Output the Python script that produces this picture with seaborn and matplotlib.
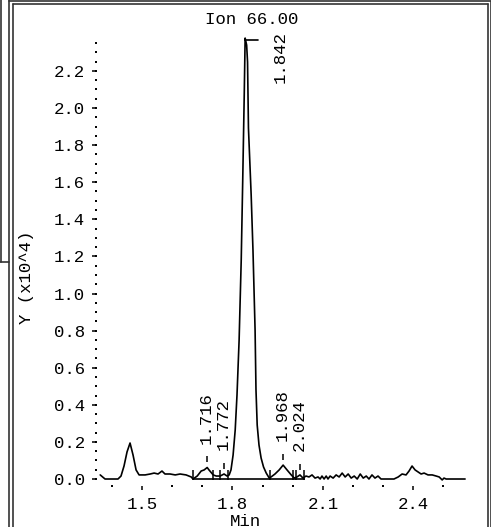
import matplotlib
matplotlib.use("Agg")
import matplotlib.pyplot as plt
from matplotlib.lines import Line2D
from matplotlib.ticker import FixedLocator, MultipleLocator, FormatStrFormatter
import pandas as pd
import seaborn as sns

# ---------------- data ----------------
time_min = [1.361, 1.377, 1.420, 1.430, 1.440, 1.450, 1.460, 1.470, 1.480, 1.490,
            1.510, 1.527, 1.540, 1.553, 1.566, 1.576, 1.593, 1.610, 1.626, 1.646,
            1.663, 1.669, 1.683, 1.696, 1.706, 1.716, 1.722, 1.736, 1.746, 1.759,
            1.772, 1.782, 1.789, 1.795, 1.802, 1.809, 1.815, 1.822, 1.829, 1.834,
            1.839, 1.842, 1.847, 1.850, 1.853, 1.862, 1.868, 1.875, 1.878, 1.882,
            1.888, 1.895, 1.903, 1.912, 1.922, 1.928, 1.941, 1.955, 1.968, 1.981,
            1.995, 2.005, 2.014, 2.024, 2.034, 2.044, 2.054, 2.064, 2.074, 2.084,
            2.091, 2.097, 2.104, 2.111, 2.117, 2.124, 2.134, 2.144, 2.154, 2.164,
            2.174, 2.184, 2.194, 2.204, 2.214, 2.224, 2.234, 2.244, 2.253, 2.263,
            2.273, 2.283, 2.293, 2.303, 2.323, 2.336, 2.350, 2.363, 2.376, 2.386,
            2.396, 2.406, 2.416, 2.426, 2.436, 2.449, 2.463, 2.476, 2.486, 2.496,
            2.502, 2.509, 2.572]
intensity = [0.022, 0.000, 0.000, 0.016, 0.070, 0.146, 0.194, 0.129, 0.049, 0.022,
             0.022, 0.027, 0.032, 0.027, 0.043, 0.027, 0.027, 0.022, 0.027, 0.022,
             0.011, 0.000, 0.016, 0.043, 0.049, 0.062, 0.049, 0.022, 0.016, 0.016,
             0.027, 0.016, 0.022, 0.049, 0.129, 0.264, 0.453, 0.749, 1.180, 1.612,
             2.070, 2.377, 2.339, 2.248, 1.892, 1.531, 1.234, 0.803, 0.480, 0.291,
             0.183, 0.113, 0.065, 0.032, 0.005, 0.011, 0.027, 0.049, 0.075, 0.049,
             0.022, 0.005, 0.011, 0.022, 0.005, 0.016, 0.011, 0.022, 0.005, 0.011,
             0.000, 0.016, 0.000, 0.016, 0.000, 0.016, 0.005, 0.022, 0.011, 0.032,
             0.011, 0.027, 0.005, 0.016, 0.000, 0.027, 0.005, 0.016, 0.000, 0.022,
             0.005, 0.016, 0.000, 0.000, 0.000, 0.000, 0.011, 0.027, 0.022, 0.043,
             0.070, 0.049, 0.038, 0.027, 0.032, 0.022, 0.022, 0.016, 0.011, -0.005,
             0.005, 0.000, 0.000]

peak_labels = ["1.716", "1.772", "1.842", "1.968", "2.024"]
peak_times = [1.716, 1.772, 1.842, 1.968, 2.024]
peak_heights = [0.062, 0.027, 2.377, 0.075, 0.022]
main_peak = "1.842"

boundary_times = [1.669, 1.736, 1.759, 1.785, 1.925, 2.001, 2.011, 2.037]
baseline_start, baseline_end = 1.669, 2.041

x_major = [1.5, 1.8, 2.1, 2.4]
y_major = [0.0, 0.2, 0.4, 0.6, 0.8, 1.0, 1.2, 1.4, 1.6, 1.8, 2.0, 2.2]
title_text = "Ion 66.00"
x_label = "Min"
y_label = "Y (x10^4)"

# ---------------- style ----------------
sns.set_style("white")
plt.rcParams["font.family"] = ["Liberation Mono", "DejaVu Sans Mono"]
FS = 12.5
INK = "black"

W, H = 491, 527
fig = plt.figure(figsize=(W / 100, H / 100), dpi=100)
fig.patch.set_facecolor("white")


def fx(px):
    return px / W


def fy(py):
    return 1 - py / H


ax = fig.add_axes([fx(96), fy(486), (469 - 96) / W, (486 - 40) / H])
ax.set_facecolor("white")

df = pd.DataFrame({"t": time_min, "v": intensity})
sns.lineplot(data=df, x="t", y="v", ax=ax, color=INK, lw=1.2,
             estimator=None, sort=False)
for ln in ax.lines:
    ln.set_clip_on(False)

ax.set_xlim(1.347, 2.585)
ax.set_ylim(-0.0377, 2.3666)
for s in ax.spines.values():
    s.set_visible(False)
ax.set_xlabel("")
ax.set_ylabel("")

# axes: dotted minor ticks, short major ticks
ax.xaxis.set_major_locator(FixedLocator(x_major))
ax.xaxis.set_minor_locator(MultipleLocator(0.1))
ax.yaxis.set_major_locator(FixedLocator(y_major))
ax.yaxis.set_minor_locator(MultipleLocator(0.05))
ax.yaxis.remove_overlapping_locs = False
ax.xaxis.set_major_formatter(FormatStrFormatter("%.1f"))
ax.yaxis.set_major_formatter(FormatStrFormatter("%.1f"))
ax.tick_params(which="both", bottom=True, left=True, top=False, right=False)
ax.tick_params(which="major", direction="out", length=3, width=1.1,
               color=INK, labelsize=FS, labelcolor=INK, pad=5)
ax.tick_params(which="minor", direction="inout", length=1.4, width=1.4, color=INK)
ax.tick_params(axis="x", which="major", length=3.2)

# integration baseline and boundary markers
ax.hlines(0, baseline_start, baseline_end, color=INK, lw=1.2)
ax.vlines(boundary_times, -0.004, 0.05, color=INK, lw=1.1)

# peak labels
ytop = ax.get_ylim()[1]
for lab, pt, ph in zip(peak_labels, peak_times, peak_heights):
    if lab == main_peak:
        ax.plot([pt, pt + 0.043], [ytop, ytop], color=INK, lw=1.2, clip_on=False)
        ax.annotate(lab, xy=(pt, ph), xytext=(35, -45), textcoords="offset pixels",
                    rotation=90, ha="center", va="bottom", fontsize=FS,
                    color=INK, annotation_clip=False)
    else:
        ax.vlines(pt, ph + 0.027, ph + 0.06, color=INK, lw=1.1)
        ax.annotate(lab, xy=(pt, ph), xytext=(-1, 24), textcoords="offset pixels",
                    rotation=90, ha="center", va="bottom", fontsize=FS,
                    color=INK, annotation_clip=False)

# titles / axis labels
fig.text(fx(252), fy(19), title_text, ha="center", va="center", fontsize=FS, color=INK)
fig.text(fx(27), fy(277), y_label, ha="center", va="center", rotation=90,
         fontsize=FS, color=INK)
fig.text(fx(245), fy(521), x_label, ha="center", va="center", fontsize=FS, color=INK)

# window frame (double border)
FR = "#333333"
frame_lw = 1.2
segments = [
    ((8.5, 0), (8.5, H)),
    ((8.5, 0.8), (W, 0.8)),
    ((12.5, 4.2), (12.5, H)),
    ((12.5, 4.2), (487.5, 4.2)),
    ((487.5, 4.2), (487.5, H)),
    ((490.5, 0.8), (490.5, H)),
    ((0.7, 0), (0.7, 262)),
    ((0, 262), (8.5, 262)),
]
for (x0, y0), (x1, y1) in segments:
    fig.add_artist(Line2D([fx(x0), fx(x1)], [fy(y0), fy(y1)],
                          transform=fig.transFigure, color=FR, lw=frame_lw))

fig.savefig("out.png", dpi=100, facecolor="white")
